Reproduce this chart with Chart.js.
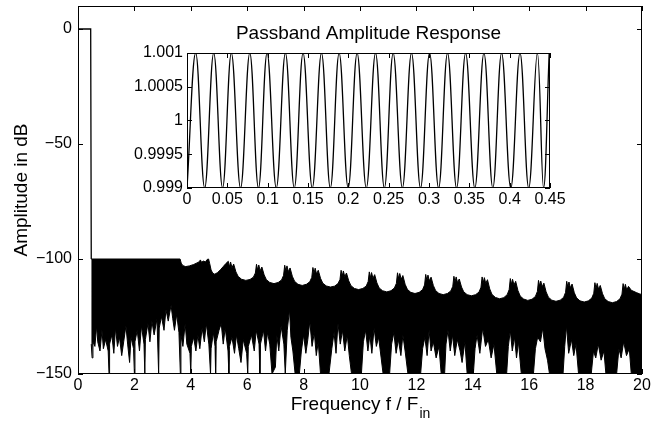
<!DOCTYPE html>
<html>
<head>
<meta charset="utf-8">
<script src="https://cdn.jsdelivr.net/npm/chart.js@4.4.0/dist/chart.umd.min.js"></script>
<style>
    body { margin: 0; background: #fff; }
    #wrap { position: relative; width: 663px; height: 423px; background: #fff; }
    #mainChart { position: absolute; left: 0; top: 0; }
    #insetChart { position: absolute; left: 120px; top: 15px; }
</style>
</head>
<body>
<div id="wrap">
    <canvas id="mainChart" width="663" height="423"></canvas>
    <canvas id="insetChart" width="450" height="195"></canvas>
</div>
<script>
// main plot: tick values
const mainXTicks = [0, 2, 4, 6, 8, 10, 12, 14, 16, 18, 20];
const mainYTicks = [-150, -100, -50, 0];

// passband (0 dB) then the drop to the stopband
const passFreq = [0, 0.45, 0.47];
const passDb = [0, 0, -100];

// upper edge of the stopband ripple (one row per scallop after 5)
const topFreq = [
    0.47, 3.62, 3.66, 3.72, 3.82, 3.95, 4.10, 4.22, 4.30, 4.34,
    4.38, 4.45, 4.52, 4.58, 4.63, 4.67, 4.72, 4.78, 4.85, 4.95,
    5.05, 5.15, 5.25,
    5.33, 5.37, 5.41, 5.46, 5.52, 5.60, 5.68, 5.80, 5.95, 6.10, 6.22, 6.29,
    6.33, 6.37, 6.41, 6.46, 6.52, 6.60, 6.68, 6.80, 6.95, 7.10, 7.22, 7.29,
    7.33, 7.37, 7.41, 7.46, 7.52, 7.60, 7.68, 7.80, 7.95, 8.10, 8.22, 8.29,
    8.33, 8.37, 8.41, 8.46, 8.52, 8.60, 8.68, 8.80, 8.95, 9.10, 9.22, 9.29,
    9.33, 9.37, 9.41, 9.46, 9.52, 9.60, 9.68, 9.80, 9.95, 10.10, 10.22, 10.29,
    10.33, 10.37, 10.41, 10.46, 10.52, 10.60, 10.68, 10.80, 10.95, 11.10, 11.22, 11.29,
    11.33, 11.37, 11.41, 11.46, 11.52, 11.60, 11.68, 11.80, 11.95, 12.10, 12.22, 12.29,
    12.33, 12.37, 12.41, 12.46, 12.52, 12.60, 12.68, 12.80, 12.95, 13.10, 13.22, 13.29,
    13.33, 13.37, 13.41, 13.46, 13.52, 13.60, 13.68, 13.80, 13.95, 14.10, 14.22, 14.29,
    14.33, 14.37, 14.41, 14.46, 14.52, 14.60, 14.68, 14.80, 14.95, 15.10, 15.22, 15.29,
    15.33, 15.37, 15.41, 15.46, 15.52, 15.60, 15.68, 15.80, 15.95, 16.10, 16.22, 16.29,
    16.33, 16.37, 16.41, 16.46, 16.52, 16.60, 16.68, 16.80, 16.95, 17.10, 17.22, 17.29,
    17.33, 17.37, 17.41, 17.46, 17.52, 17.60, 17.68, 17.80, 17.95, 18.10, 18.22, 18.29,
    18.33, 18.37, 18.41, 18.46, 18.52, 18.60, 18.68, 18.80, 18.95, 19.10, 19.22, 19.29,
    19.33, 19.37, 19.41, 19.46, 19.52, 19.62, 19.80, 19.90, 20.00];
const topDb = [
    -100, -100, -101.8, -102.9, -103.3, -103.0, -102.4, -101.7, -101.2, -100.4,
    -101.4, -100.9, -101.3, -100.2, -100.0, -102.0, -104.8, -106.2, -106.6, -105.9,
    -104.7, -103.3, -101.9,
    -101.0, -103.5, -101.3, -103.8, -102.2, -105.6, -107.6, -108.8, -109.3, -108.9, -107.9, -106.1,
    -102.3, -104.8, -102.6, -105.1, -103.5, -106.9, -109.0, -110.2, -110.7, -110.2, -109.1, -107.1,
    -102.7, -105.2, -103.0, -105.5, -103.9, -107.5, -109.7, -111.0, -111.5, -111.0, -109.9, -108.0,
    -103.7, -106.2, -104.0, -106.5, -104.9, -108.4, -110.5, -111.7, -112.2, -111.8, -110.7, -108.9,
    -104.9, -107.4, -105.2, -107.7, -106.1, -109.5, -111.6, -112.8, -113.3, -112.8, -111.8, -109.8,
    -105.6, -108.1, -105.9, -108.4, -106.8, -110.4, -112.6, -113.8, -114.3, -113.8, -112.6, -110.6,
    -106.0, -108.5, -106.3, -108.8, -107.2, -111.0, -113.2, -114.5, -115.0, -114.5, -113.3, -111.3,
    -106.7, -109.2, -107.0, -109.5, -107.9, -111.5, -113.7, -115.0, -115.5, -115.0, -113.9, -111.9,
    -107.5, -110.0, -107.8, -110.3, -108.7, -112.2, -114.3, -115.5, -116.0, -115.5, -114.4, -112.3,
    -107.8, -110.3, -108.1, -110.6, -109.0, -113.0, -115.4, -116.7, -117.3, -116.8, -115.5, -113.3,
    -108.5, -111.0, -108.8, -111.3, -109.7, -113.7, -116.1, -117.4, -118.0, -117.5, -116.3, -114.1,
    -109.3, -111.8, -109.6, -112.1, -110.5, -114.3, -116.6, -117.9, -118.4, -117.9, -116.7, -114.5,
    -109.7, -112.2, -110.0, -112.5, -110.9, -114.7, -116.9, -118.2, -118.7, -118.2, -117.0, -114.9,
    -110.3, -112.8, -110.6, -113.1, -111.5, -115.1, -117.3, -118.5, -119.0, -118.5, -117.3, -115.3,
    -110.7, -113.2, -111.0, -113.5, -111.9, -113.6, -114.6, -115.1, -115.5];

// lower edge of the stopband (thin spikes down to -150, white gaps upward)
const bottomFreq = [
    0.47, 0.50, 0.53, 0.60, 0.66, 0.70, 0.78, 0.85, 0.90, 0.98,
    1.07, 1.10, 1.12, 1.20, 1.27, 1.33, 1.40, 1.47, 1.55, 1.62,
    1.70, 1.76, 1.83, 1.88, 1.97, 2.00, 2.02, 2.10, 2.18, 2.25,
    2.34, 2.37, 2.39, 2.48, 2.55, 2.62, 2.70, 2.80, 2.86, 2.88,
    2.96, 3.05, 3.12, 3.20, 3.30, 3.36, 3.42, 3.50, 3.58, 3.63,
    3.65, 3.72, 3.80, 3.86, 3.97, 4.00, 4.02, 4.10, 4.18, 4.25,
    4.32, 4.40, 4.48, 4.55, 4.64, 4.70, 4.72, 4.80, 4.86, 4.88,
    4.90, 5.00, 5.08, 5.15, 5.22, 5.32, 5.35, 5.37, 5.46, 5.55,
    5.62, 5.70, 5.78, 5.86, 5.98, 6.02, 6.04, 6.15, 6.25, 6.32,
    6.42, 6.45, 6.47, 6.58, 6.65, 6.72, 6.80, 6.88, 7.00, 7.05,
    7.12, 7.20, 7.30, 7.35, 7.42, 7.50, 7.55, 7.62, 7.70, 7.85,
    7.92, 8.00, 8.08, 8.15, 8.22, 8.30, 8.38, 8.45, 8.52, 8.60,
    8.90, 9.00, 9.08, 9.15, 9.22, 9.30, 9.38, 9.46, 9.55, 9.62,
    9.70, 10.05, 10.12, 10.20, 10.28, 10.35, 10.42, 10.50, 10.58, 10.66,
    10.75, 10.82, 11.05, 11.12, 11.20, 11.28, 11.36, 11.45, 11.52, 11.60,
    11.70, 12.15, 12.22, 12.30, 12.38, 12.45, 12.52, 12.60, 12.70, 12.80,
    12.88, 13.00, 13.05, 13.12, 13.20, 13.28, 13.36, 13.45, 13.55, 13.62,
    13.72, 13.80, 14.02, 14.08, 14.15, 14.25, 14.35, 14.45, 14.55, 14.65,
    14.75, 14.85, 15.20, 15.26, 15.33, 15.40, 15.48, 15.55, 15.62, 15.72,
    16.15, 16.22, 16.30, 16.40, 16.48, 16.56, 16.65, 16.72, 17.20, 17.26,
    17.32, 17.40, 17.50, 17.58, 17.66, 17.75, 18.20, 18.28, 18.36, 18.45,
    18.55, 18.65, 18.72, 19.10, 19.18, 19.26, 19.35, 19.45, 19.55, 19.62,
    20.00];
const bottomDb = [
    -137, -143, -136, -138, -129, -136, -140, -131, -139, -135,
    -140, -150, -137, -133, -141, -130, -138, -134, -142, -136,
    -129, -137, -145, -134, -139, -150, -136, -131, -140, -129,
    -137, -150, -135, -128, -136, -127, -133, -126, -150, -130,
    -125, -131, -122, -127, -120, -126, -131, -124, -132, -150,
    -133, -138, -128, -137, -141, -150, -138, -134, -140, -133,
    -139, -130, -136, -128, -137, -150, -139, -132, -138, -150,
    -136, -131, -128, -137, -130, -140, -150, -138, -134, -141,
    -133, -139, -145, -135, -141, -150, -138, -133, -140, -131,
    -137, -150, -137, -131, -140, -132, -137, -150, -147, -133,
    -140, -129, -137, -150, -131, -122, -134, -140, -150, -150,
    -140, -133, -141, -135, -127, -138, -132, -142, -136, -150,
    -150, -139, -132, -141, -128, -137, -131, -140, -133, -142,
    -150, -150, -136, -131, -140, -133, -141, -130, -138, -134,
    -143, -150, -150, -137, -132, -141, -135, -142, -133, -140,
    -150, -150, -139, -134, -142, -131, -140, -136, -143, -138,
    -150, -150, -137, -131, -140, -133, -142, -135, -140, -145,
    -136, -150, -150, -139, -133, -141, -130, -138, -135, -143,
    -137, -150, -150, -138, -131, -140, -134, -143, -136, -150,
    -150, -139, -134, -136, -130, -139, -144, -150, -150, -138,
    -129, -141, -135, -142, -137, -150, -150, -140, -143, -137,
    -144, -140, -150, -150, -139, -143, -136, -142, -139, -150,
    -150];

// inset: passband ripple, read peak by peak
const insetXTicks = [0, 0.05, 0.1, 0.15, 0.2, 0.25, 0.3, 0.35, 0.4, 0.45];
const insetYTicks = [0.999, 0.9995, 1, 1.0005, 1.001];
const insetFreq = [0, 0.0108, 0.0219, 0.0331, 0.0441, 0.0550, 0.0664, 0.0778, 0.0886, 0.0993, 0.1107, 0.1220,
    0.1330, 0.1439, 0.1553, 0.1667, 0.1777, 0.1886, 0.1998, 0.2109, 0.2223, 0.2337, 0.2447, 0.2556, 0.2670,
    0.2783, 0.2895, 0.3007, 0.3119, 0.3230, 0.3342, 0.3454, 0.3568, 0.3681, 0.3791, 0.3900, 0.4014, 0.4128,
    0.4236, 0.4343, 0.4420, 0.4490];
const insetAmp = [0.999, 1.001, 0.999, 1.001, 0.999, 1.001, 0.999, 1.001, 0.999, 1.001, 0.999, 1.001,
    0.999, 1.001, 0.999, 1.001, 0.999, 1.001, 0.999, 1.001, 0.999, 1.001, 0.999, 1.001, 0.999,
    1.001, 0.999, 1.001, 0.999, 1.001, 0.999, 1.001, 0.999, 1.001, 0.999, 1.001, 0.999, 1.001,
    0.999, 1.001, 0.999, 1.001];

const FONT = "'Liberation Sans', Arial, Helvetica, sans-serif";
const TICK_SIZE = 16;
const LABEL_SIZE = 19;

Chart.defaults.font.family = FONT;
Chart.defaults.color = '#000';

const toPoints = (xs, ys) => xs.map((x, i) => ({ x: x, y: ys[i] }));
const minusFmt = v => (v < 0 ? '\u2212' + Math.abs(v) : String(v));

// fixed scale size, no extra label padding so the plot box lands where we want it
function fixSize(dim, size) {
    return s => {
        s[dim] = size;
        s.paddingTop = 0; s.paddingBottom = 0; s.paddingLeft = 0; s.paddingRight = 0;
    };
}

// matlab style box: frame, inward ticks on all four sides, titles
const matlabAxes = {
    id: 'matlabAxes',
    beforeDatasetsDraw(chart) {
        const { ctx, chartArea: a } = chart;
        ctx.save();
        ctx.fillStyle = '#fff';
        ctx.fillRect(a.left, a.top, a.width, a.height);
        ctx.restore();
    },
    afterDatasetsDraw(chart, args, opts) {
        const { ctx, chartArea: a, scales } = chart;
        const len = opts.tickLen;
        ctx.save();
        ctx.strokeStyle = '#000';
        ctx.lineWidth = 1;
        ctx.beginPath();
        scales.x.ticks.forEach(t => {
            const px = Math.round(scales.x.getPixelForValue(t.value)) + 0.5;
            ctx.moveTo(px, a.bottom); ctx.lineTo(px, a.bottom - len);
            ctx.moveTo(px, a.top); ctx.lineTo(px, a.top + len);
        });
        scales.y.ticks.forEach(t => {
            const py = Math.round(scales.y.getPixelForValue(t.value)) + 0.5;
            ctx.moveTo(a.left, py); ctx.lineTo(a.left + len, py);
            ctx.moveTo(a.right, py); ctx.lineTo(a.right - len, py);
        });
        ctx.stroke();
        ctx.strokeRect(Math.round(a.left) + 0.5, Math.round(a.top) + 0.5,
            Math.round(a.width) - 1, Math.round(a.height) - 1);

        ctx.fillStyle = '#000';
        const cx = (a.left + a.right) / 2;
        if (opts.title) {
            ctx.font = LABEL_SIZE + 'px ' + FONT;
            ctx.textAlign = 'center';
            ctx.textBaseline = 'middle';
            ctx.fillText(opts.title, cx, opts.titleY);
        }
        if (opts.xTitle) {
            ctx.textBaseline = 'alphabetic';
            ctx.textAlign = 'left';
            ctx.font = LABEL_SIZE + 'px ' + FONT;
            const w1 = ctx.measureText(opts.xTitle).width;
            ctx.font = (LABEL_SIZE - 5) + 'px ' + FONT;
            const w2 = ctx.measureText(opts.xSub).width;
            const x0 = cx - (w1 + w2) / 2;
            ctx.font = LABEL_SIZE + 'px ' + FONT;
            ctx.fillText(opts.xTitle, x0, opts.xTitleY);
            ctx.font = (LABEL_SIZE - 5) + 'px ' + FONT;
            ctx.fillText(opts.xSub, x0 + w1 + 1, opts.xTitleY + 8);
        }
        if (opts.yTitle) {
            ctx.font = LABEL_SIZE + 'px ' + FONT;
            ctx.textAlign = 'center';
            ctx.textBaseline = 'middle';
            ctx.translate(opts.yTitleX, (a.top + a.bottom) / 2);
            ctx.rotate(-Math.PI / 2);
            ctx.fillText(opts.yTitle, 0, 0);
        }
        ctx.restore();
    }
};

const lineStyle = { borderColor: '#000', pointRadius: 0, borderJoinStyle: 'miter' };

new Chart(document.getElementById('mainChart'), {
    type: 'line',
    data: {
        datasets: [
            Object.assign({ data: toPoints(passFreq, passDb), borderWidth: 1.3, fill: false }, lineStyle),
            Object.assign({ data: toPoints(topFreq, topDb), borderWidth: 1, fill: '+1', backgroundColor: '#000' }, lineStyle),
            Object.assign({ data: toPoints(bottomFreq, bottomDb), borderWidth: 1, fill: false }, lineStyle)
        ]
    },
    options: {
        responsive: false,
        animation: false,
        events: [],
        layout: { padding: { top: 6, right: 21, bottom: 0, left: 0 } },
        plugins: {
            legend: { display: false },
            tooltip: { enabled: false },
            matlabAxes: {
                tickLen: 5,
                xTitle: 'Frequency f / F', xSub: 'in', xTitleY: 410,
                yTitle: 'Amplitude in dB', yTitleX: 22
            }
        },
        scales: {
            x: {
                type: 'linear', min: 0, max: 20,
                grid: { display: false, drawTicks: false },
                border: { display: false },
                afterBuildTicks: s => { s.ticks = mainXTicks.map(v => ({ value: v })); },
                afterFit: fixSize('height', 49),
                ticks: { padding: 2, autoSkip: false, maxRotation: 0, font: { size: TICK_SIZE }, callback: v => minusFmt(v) }
            },
            y: {
                type: 'linear', min: -150, max: 10,
                grid: { display: false, drawTicks: false },
                border: { display: false },
                afterBuildTicks: s => { s.ticks = mainYTicks.map(v => ({ value: v })); },
                afterFit: fixSize('width', 78),
                ticks: { padding: 6, autoSkip: false, font: { size: TICK_SIZE }, callback: v => minusFmt(v) }
            }
        }
    },
    plugins: [matlabAxes]
});

new Chart(document.getElementById('insetChart'), {
    type: 'line',
    data: {
        datasets: [
            Object.assign({ data: toPoints(insetFreq, insetAmp), borderWidth: 1.3, tension: 0.4, fill: false }, lineStyle)
        ]
    },
    options: {
        responsive: false,
        animation: false,
        events: [],
        layout: { padding: { top: 38, right: 20, bottom: 0, left: 0 } },
        plugins: {
            legend: { display: false },
            tooltip: { enabled: false },
            matlabAxes: { tickLen: 5, title: 'Passband Amplitude Response', titleY: 19 }
        },
        scales: {
            x: {
                type: 'linear', min: 0, max: 0.45,
                grid: { display: false, drawTicks: false },
                border: { display: false },
                afterBuildTicks: s => { s.ticks = insetXTicks.map(v => ({ value: v })); },
                afterFit: fixSize('height', 22),
                ticks: { padding: 2, autoSkip: false, maxRotation: 0, font: { size: TICK_SIZE }, callback: v => String(v) }
            },
            y: {
                type: 'linear', min: 0.999, max: 1.001,
                grid: { display: false, drawTicks: false },
                border: { display: false },
                afterBuildTicks: s => { s.ticks = insetYTicks.map(v => ({ value: v })); },
                afterFit: fixSize('width', 67),
                ticks: { padding: 4, autoSkip: false, font: { size: TICK_SIZE }, callback: v => String(v) }
            }
        }
    },
    plugins: [matlabAxes]
});
</script>
</body>
</html>
